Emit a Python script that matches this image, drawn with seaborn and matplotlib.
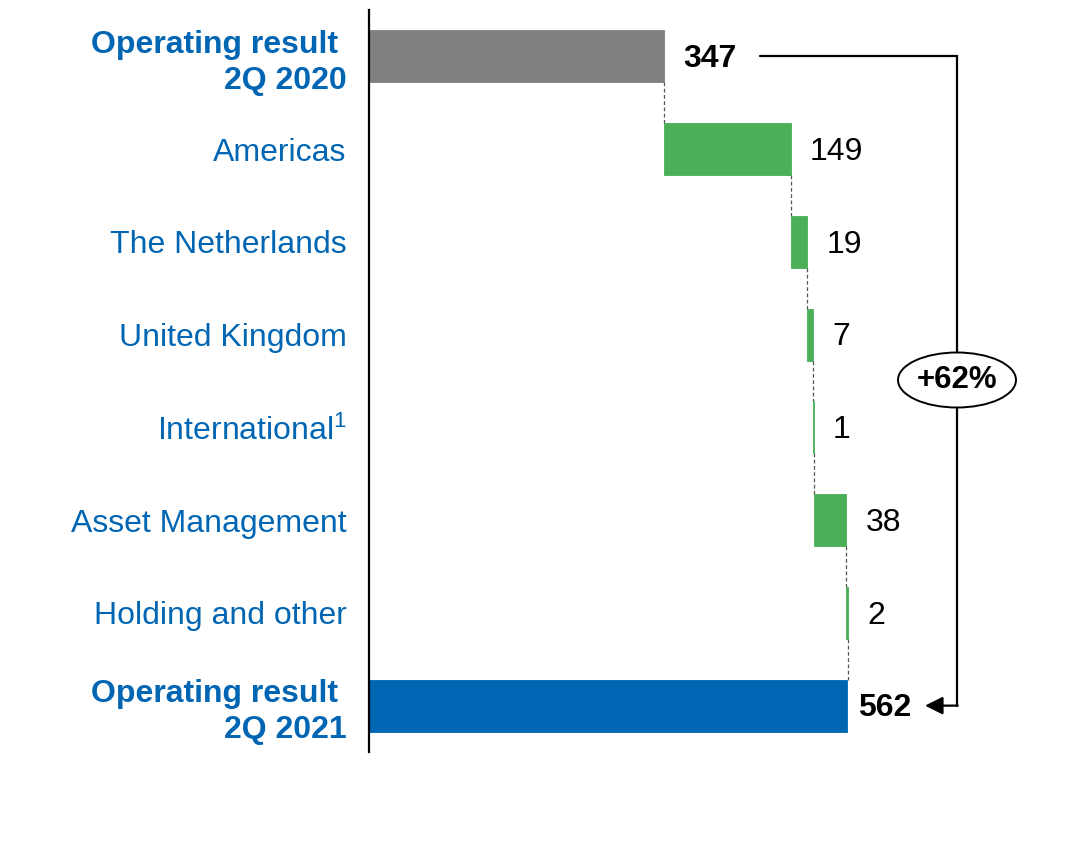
import matplotlib
matplotlib.use("Agg")
import matplotlib.pyplot as plt
from matplotlib.patches import Ellipse
import seaborn as sns
import pandas as pd
import numpy as np

categories = ["Operating result \n2Q 2020", "Americas", "The Netherlands", "United Kingdom",
              "International$^{1}$", "Asset Management", "Holding and other",
              "Operating result \n2Q 2021"]
values = [347, 149, 19, 7, 1, 38, 2, 562]
kinds = ["total", "delta", "delta", "delta", "delta", "delta", "delta", "total"]
change_label = "+62%"

GREY = "#808080"
GREEN = "#4aaf57"
BLUE = "#0066b3"

# compute starts
starts = []
run = 0
for v, k in zip(values, kinds):
    if k == "total":
        starts.append(0)
        run = v
    else:
        starts.append(run)
        run += v
ends = [s + v for s, v in zip(starts, values)]
colors = [GREY] + [GREEN] * 6 + [BLUE]

df = pd.DataFrame({"cat": categories, "val": values})

sns.set_theme(style="white")
plt.rcParams["font.family"] = ["Liberation Sans", "DejaVu Sans"]
plt.rcParams["mathtext.fontset"] = "custom"
plt.rcParams["mathtext.rm"] = "Liberation Sans"
plt.rcParams["mathtext.it"] = "Liberation Sans"
plt.rcParams["mathtext.bf"] = "Liberation Sans:bold"
plt.rcParams["mathtext.default"] = "regular"

fig = plt.figure(figsize=(10.66, 8.43), dpi=100)
ax = fig.add_axes([369 / 1066, (843 - 752) / 843, 671 / 1066, 742 / 843])

sns.barplot(data=df, x="val", y="cat", hue="cat", palette=colors, orient="h",
            width=0.56, saturation=1, linewidth=0, legend=False, ax=ax)
for p, s, c in zip(ax.patches, starts, colors):
    p.set_x(s)
    p.set_edgecolor(c)
    p.set_linewidth(0.6)

ax.set_xlim(0, 671 / 0.85)
ax.set_ylim(7.5, -0.5)
ax.set_xlabel("")
ax.set_ylabel("")
ax.set_xticks([])
for sp in ["top", "right", "bottom"]:
    ax.spines[sp].set_visible(False)
ax.spines["left"].set_color("black")
ax.spines["left"].set_linewidth(1.6)
ax.tick_params(axis="y", length=0, pad=16)
ax.set_yticks(range(len(categories)))
ax.set_yticklabels(categories, fontsize=23, color=BLUE, ha="right")
for i, t in enumerate(ax.get_yticklabels()):
    if kinds[i] == "total":
        t.set_fontweight("bold")
        t.set_linespacing(1.27)

# connectors
hh = 0.28
for i in range(len(values) - 1):
    x = ends[i]
    ax.plot([x, x], [i + hh, i + 1 - hh], color="#555555", lw=0.9,
            linestyle=(0, (3, 2)), zorder=1)

# value labels
for i, (e, v, k) in enumerate(zip(ends, values, kinds)):
    off = 14 if i != len(values) - 1 else 8
    ax.annotate(f"{v}", xy=(e, i), xytext=(off, -2), textcoords="offset points",
                ha="left", va="center", fontsize=23, color="black",
                fontweight="bold" if k == "total" else "normal")

# bracket
xr = (957 - 369) / 0.85
x0 = (760 - 369) / 0.85
xt = (925 - 369) / 0.85
ax.plot([x0, xr, xr], [0, 0, 7], color="black", lw=1.6, solid_joinstyle="miter",
        clip_on=False)
ax.annotate("", xy=(xt, 7), xytext=(xr + 0.8, 7),
            arrowprops=dict(arrowstyle="-|>,head_length=0.9,head_width=0.45",
                            color="black", lw=1.6, shrinkA=0, shrinkB=0),
            annotation_clip=False)
yc = (380 - 10) / 92.75 - 0.5
ell = Ellipse((xr, yc), width=118 / 0.85, height=55 / 92.75, facecolor="white",
              edgecolor="black", lw=1.4, zorder=5, clip_on=False)
ax.add_patch(ell)
ax.text(xr, yc, change_label, ha="center", va="center", fontsize=22.5,
        fontweight="bold", color="black", zorder=6)

fig.savefig("out.png", dpi=100)
